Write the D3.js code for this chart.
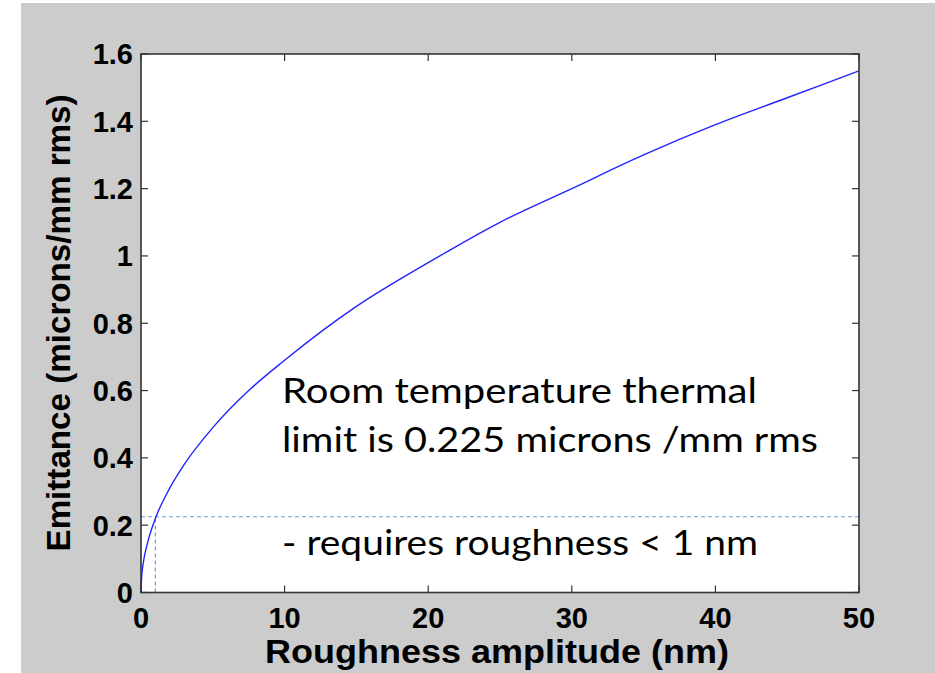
<!DOCTYPE html>
<html>
<head>
<meta charset="utf-8">
<script src="https://cdn.jsdelivr.net/npm/d3@7"></script>
<style>
  body { margin: 0; background: #fff; }
  svg { display: block; }
</style>
</head>
<body>
<div id="chart"></div>
<script>
// roughness (nm) vs emittance (microns/mm rms)
var roughness = [0, 0.05, 0.1, 0.25, 0.5, 1, 2, 3, 5, 7.5, 10, 15, 20, 25, 30, 35, 40, 45, 50];
var emittance = [0, 0.05, 0.07, 0.11, 0.155, 0.22, 0.31, 0.38, 0.49, 0.60, 0.69, 0.85, 0.98, 1.10, 1.20, 1.30, 1.39, 1.47, 1.55];
var xTicks = [0, 10, 20, 30, 40, 50];
var yTicks = [0, 0.2, 0.4, 0.6, 0.8, 1, 1.2, 1.4, 1.6];
var limitX = 1, limitY = 0.225;
var noteLines = ["Room temperature thermal", "limit is 0.225 microns /mm rms", "- requires roughness < 1 nm"];

var W = 935, H = 673;
var margin = { top: 54, right: 76, bottom: 80.5, left: 141 };
var width = W - margin.left - margin.right,
  height = H - margin.top - margin.bottom;

var svg = d3.select("#chart").append("svg")
  .attr("width", W)
  .attr("height", H);

svg.append("rect")
  .attr("x", 21).attr("y", 3)
  .attr("width", W - 21).attr("height", H - 3)
  .style("fill", "#cccccc");

var g = svg.append("g")
  .attr("transform", "translate(" + margin.left + "," + margin.top + ")");

var x = d3.scaleLinear().domain([0, 50]).range([0, width]);
var y = d3.scaleLinear().domain([0, 1.6]).range([height, 0]);

g.append("rect")
  .attr("width", width).attr("height", height)
  .style("fill", "#fff");

// inward ticks on all four sides
var tick = 7;
xTicks.forEach(function (t) {
  g.append("line").attr("x1", x(t)).attr("x2", x(t)).attr("y1", height).attr("y2", height - tick)
    .style("stroke", "#333").style("stroke-width", 1.2);
  g.append("line").attr("x1", x(t)).attr("x2", x(t)).attr("y1", 0).attr("y2", tick)
    .style("stroke", "#333").style("stroke-width", 1.2);
  g.append("text")
    .attr("x", x(t)).attr("y", height + 35)
    .style("text-anchor", "middle")
    .style("font-family", "Liberation Sans, Arial, sans-serif")
    .style("font-weight", "bold")
    .style("font-size", "29px")
    .text(t);
});
yTicks.forEach(function (t) {
  g.append("line").attr("x1", 0).attr("x2", tick).attr("y1", y(t)).attr("y2", y(t))
    .style("stroke", "#333").style("stroke-width", 1.2);
  g.append("line").attr("x1", width).attr("x2", width - tick).attr("y1", y(t)).attr("y2", y(t))
    .style("stroke", "#333").style("stroke-width", 1.2);
  g.append("text")
    .attr("x", -8).attr("y", y(t))
    .attr("dy", "0.36em")
    .style("text-anchor", "end")
    .style("font-family", "Liberation Sans, Arial, sans-serif")
    .style("font-weight", "bold")
    .style("font-size", "29px")
    .text(d3.format("")(t));
});

// threshold dashed lines
g.append("line")
  .attr("x1", x(0)).attr("x2", x(50)).attr("y1", y(limitY)).attr("y2", y(limitY))
  .style("stroke", "#6fa0d8").style("stroke-width", 1.2).style("stroke-dasharray", "4,3");
g.append("line")
  .attr("x1", x(limitX)).attr("x2", x(limitX)).attr("y1", y(0)).attr("y2", y(limitY))
  .style("stroke", "#6fa0d8").style("stroke-width", 1.2).style("stroke-dasharray", "4,3");

var pts = roughness.map(function (r, i) { return [r, emittance[i]]; });
var line = d3.line()
  .x(function (d) { return x(d[0]); })
  .y(function (d) { return y(d[1]); })
  .curve(d3.curveMonotoneX);
g.append("path")
  .datum(pts)
  .attr("d", line)
  .style("fill", "none")
  .style("stroke", "#2323ff")
  .style("stroke-width", 1.4);

// frame
g.append("rect")
  .attr("width", width).attr("height", height)
  .style("fill", "none")
  .style("stroke", "#333").style("stroke-width", 1.6);

// annotation
var noteY = [403, 452, 555];
var noteW = [475, 536, 476];
noteLines.forEach(function (s, i) {
  svg.append("text")
    .attr("x", 282).attr("y", noteY[i])
    .attr("textLength", noteW[i])
    .attr("lengthAdjust", "spacingAndGlyphs")
    .style("font-family", "Lato, Open Sans, sans-serif")
    .style("font-size", "35px")
    .style("fill", "#000")
    .text(s);
});

// axis labels
svg.append("text")
  .attr("x", 497).attr("y", 663)
  .attr("textLength", 464)
  .attr("lengthAdjust", "spacingAndGlyphs")
  .style("text-anchor", "middle")
  .style("font-family", "Liberation Sans, Arial, sans-serif")
  .style("font-weight", "bold")
  .style("font-size", "33px")
  .text("Roughness amplitude (nm)");

svg.append("text")
  .attr("transform", "translate(70,323) rotate(-90)")
  .attr("textLength", 457)
  .attr("lengthAdjust", "spacingAndGlyphs")
  .style("text-anchor", "middle")
  .style("font-family", "Liberation Sans, Arial, sans-serif")
  .style("font-weight", "bold")
  .style("font-size", "33px")
  .text("Emittance (microns/mm rms)");
</script>
</body>
</html>
